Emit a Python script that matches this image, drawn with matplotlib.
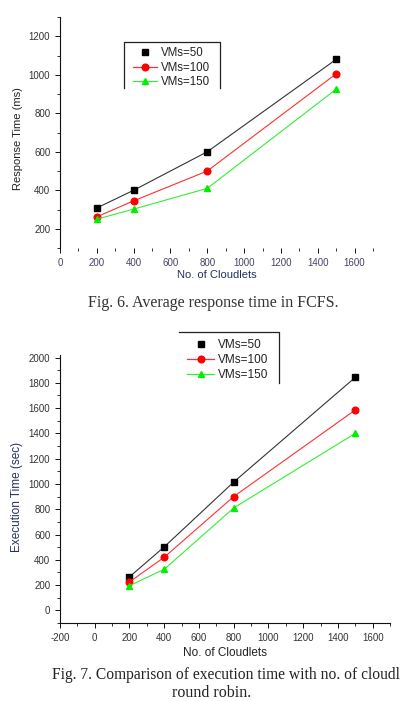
import matplotlib
matplotlib.use("Agg")
import matplotlib.pyplot as plt
from matplotlib.lines import Line2D
from matplotlib.ticker import MultipleLocator

plt.rcParams["axes.unicode_minus"] = False

# ---- data ----
cloudlets = [200, 400, 800, 1500]
series_labels = ["VMs=50", "VMs=100", "VMs=150"]

resp_vm50 = [308, 400, 600, 1080]
resp_vm100 = [262, 345, 500, 1005]
resp_vm150 = [250, 302, 410, 925]

exec_vm50 = [265, 502, 1015, 1843]
exec_vm100 = [225, 420, 900, 1585]
exec_vm150 = [195, 325, 810, 1400]

W, H = 407, 701
fig = plt.figure(figsize=(W / 100, H / 100), dpi=100)

SANS = ["Liberation Sans", "DejaVu Sans"]
SERIF = ["Liberation Serif", "DejaVu Serif"]
NAVY = "#24305e"

styles = [
    dict(color="#333333", marker="s", mfc="#000000", mec="#000000"),
    dict(color="#ff3030", marker="o", mfc="#ff0000", mec="#ff0000"),
    dict(color="#33ee33", marker="^", mfc="#00ee00", mec="#00ee00"),
]


def fx(px):
    return px / W


def fy(py):
    return 1 - py / H


def style_axes(ax, show_bottom):
    for s in ["top", "right"]:
        ax.spines[s].set_visible(False)
    ax.spines["bottom"].set_visible(show_bottom)
    for s in ["left", "bottom"]:
        ax.spines[s].set_linewidth(0.8)
        ax.spines[s].set_color("#111111")
    ax.tick_params(which="major", direction="out", length=3.5, width=0.7,
                   labelsize=7, colors="#111111")
    ax.tick_params(which="minor", direction="out", length=2, width=0.6,
                   colors="#111111")
    for lab in ax.get_xticklabels() + ax.get_yticklabels():
        lab.set_family(SANS)
        lab.set_color("#333333")


def draw_legend(ax, anchor, fontsize, handlelength, labelspacing):
    handles = []
    for i, (lab, st) in enumerate(zip(series_labels, styles)):
        ls = "none" if i == 0 else "-"
        handles.append(Line2D([], [], linestyle=ls, color=st["color"], lw=0.9,
                              marker=st["marker"], mfc=st["mfc"], mec=st["mec"],
                              markersize=4.8))
    leg = ax.legend(handles, series_labels, loc="upper left",
                    bbox_to_anchor=anchor, bbox_transform=fig.transFigure,
                    frameon=False, borderpad=0, borderaxespad=0,
                    handlelength=handlelength, handletextpad=0.35,
                    labelspacing=labelspacing,
                    prop=dict(family=SANS, size=fontsize))
    for t in leg.get_texts():
        t.set_color("#222222")
    return leg


def fig_line(xs, ys):
    fig.add_artist(Line2D([fx(x) for x in xs], [fy(y) for y in ys],
                          transform=fig.transFigure, color="#222222", lw=0.9))


# ---- Chart 1: response time ----
ax1 = fig.add_axes([fx(60), fy(248), fx(373) - fx(60), fy(17) - fy(248)])
for vals, st in zip([resp_vm50, resp_vm100, resp_vm150], styles):
    ax1.plot(cloudlets, vals, color=st["color"], lw=0.8, marker=st["marker"],
             mfc=st["mfc"], mec=st["mec"], markersize=4.8)
ax1.set_xlim(0, 1700)
ax1.set_ylim(100, 1300)
ax1.xaxis.set_major_locator(MultipleLocator(200))
ax1.xaxis.set_minor_locator(MultipleLocator(100))
ax1.yaxis.set_major_locator(MultipleLocator(200))
ax1.yaxis.set_minor_locator(MultipleLocator(100))
style_axes(ax1, show_bottom=False)
ax1.set_xticks(range(0, 1601, 200))
ax1.set_xticklabels([str(v) for v in range(0, 1601, 200)], family=SANS, color="#444466")

draw_legend(ax1, (fx(133), fy(47)), 8.3, 2.1, 0.22)
fig_line([124, 124, 220, 220], [88, 42, 42, 88])

fig.text(fx(18), fy(139), "Response Time (ms)", rotation=90, ha="center",
         va="center", family=SANS, fontsize=8, color="#222222")
fig.text(fx(217), fy(275), "No. of Cloudlets", ha="center", va="center",
         family=SANS, fontsize=8, color=NAVY)
fig.text(fx(213), fy(303), "Fig. 6. Average response time in FCFS.",
         ha="center", va="center", family=SERIF, fontsize=11.5, color="#333333")

# ---- Chart 2: execution time ----
ax2 = fig.add_axes([fx(60), fy(623), fx(390) - fx(60), fy(355) - fy(623)])
for vals, st in zip([exec_vm50, exec_vm100, exec_vm150], styles):
    ax2.plot(cloudlets, vals, color=st["color"], lw=0.8, marker=st["marker"],
             mfc=st["mfc"], mec=st["mec"], markersize=4.8)
ax2.set_xlim(-200, 1700)
ax2.set_ylim(-100, 2020)
ax2.xaxis.set_major_locator(MultipleLocator(200))
ax2.xaxis.set_minor_locator(MultipleLocator(100))
ax2.yaxis.set_major_locator(MultipleLocator(200))
ax2.yaxis.set_minor_locator(MultipleLocator(100))
style_axes(ax2, show_bottom=True)

draw_legend(ax2, (fx(187), fy(339)), 8.5, 2.3, 0.25)
fig_line([179, 279, 279], [332, 332, 383])

fig.text(fx(17), fy(497), "Execution Time (sec)", rotation=90, ha="center",
         va="center", family=SANS, fontsize=8.5, color=NAVY)
fig.text(fx(225), fy(653), "No. of Cloudlets", ha="center", va="center",
         family=SANS, fontsize=8.5, color="#222222")
fig.text(fx(52), fy(675), "Fig. 7. Comparison of execution time with no. of cloudl",
         ha="left", va="center", family=SERIF, fontsize=11.2, color="#222222")
fig.text(fx(212), fy(693), "round robin.", ha="center", va="center",
         family=SERIF, fontsize=11.5, color="#222222")

fig.savefig("out.png", dpi=100)
